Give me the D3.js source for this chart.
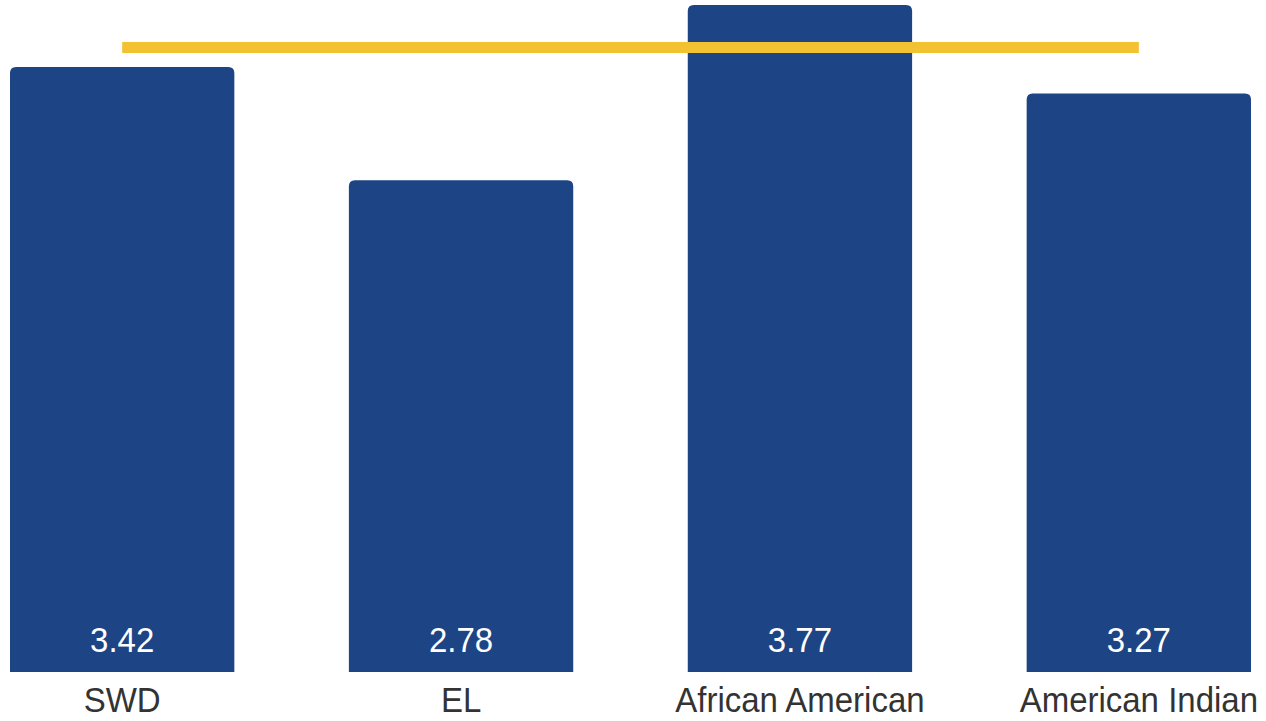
<!DOCTYPE html>
<html><head><meta charset="utf-8">
<script src="https://cdn.jsdelivr.net/npm/d3@7"></script>
<style>html,body{margin:0;padding:0;background:#fff;}svg{display:block;}</style>
</head><body>
<svg id="c" width="1266" height="721"></svg>
<script>
const categories = ["SWD", "EL", "African American", "American Indian"];
const values = [3.42, 2.78, 3.77, 3.27];
const targetValue = [3.53];

const W = 1266, H = 721;
const svg = d3.select("#c");
const x = d3.scaleBand().domain(categories).range([10, 1251]).paddingInner(0.338).paddingOuter(0);
const y = d3.scaleLinear().domain([0, 3.42]).range([672, 67]);

const r = 6;
function barPath(x0, w, yt, yb) {
  return `M${x0},${yb}V${yt + r}Q${x0},${yt} ${x0 + r},${yt}H${x0 + w - r}Q${x0 + w},${yt} ${x0 + w},${yt + r}V${yb}Z`;
}

svg.selectAll("path.bar").data(categories).enter().append("path")
  .attr("class", "bar")
  .attr("d", (d, i) => barPath(x(d), x.bandwidth(), y(values[i]), y(0)))
  .attr("fill", "#1d4484");

svg.append("line")
  .attr("x1", x(categories[0]) + x.bandwidth() / 2)
  .attr("x2", x(categories[categories.length - 1]) + x.bandwidth() / 2)
  .attr("y1", y(targetValue[0])).attr("y2", y(targetValue[0]))
  .attr("stroke", "#f2c232").attr("stroke-width", 11);

svg.selectAll("text.val").data(categories).enter().append("text")
  .attr("class", "val")
  .attr("transform", d => `translate(${x(d) + x.bandwidth() / 2},652) scale(1,1.08)`)
  .attr("text-anchor", "middle")
  .attr("font-family", "Liberation Sans, Arial, sans-serif")
  .attr("font-size", 33)
  .attr("fill", "#ffffff")
  .text((d, i) => values[i].toFixed(2));

svg.selectAll("text.cat").data(categories).enter().append("text")
  .attr("class", "cat")
  .attr("transform", d => `translate(${x(d) + x.bandwidth() / 2},712) scale(1,1.08)`)
  .attr("text-anchor", "middle")
  .attr("font-family", "Liberation Sans, Arial, sans-serif")
  .attr("font-size", 33)
  .attr("fill", "#333333")
  .text(d => d);
</script>
</body></html>
